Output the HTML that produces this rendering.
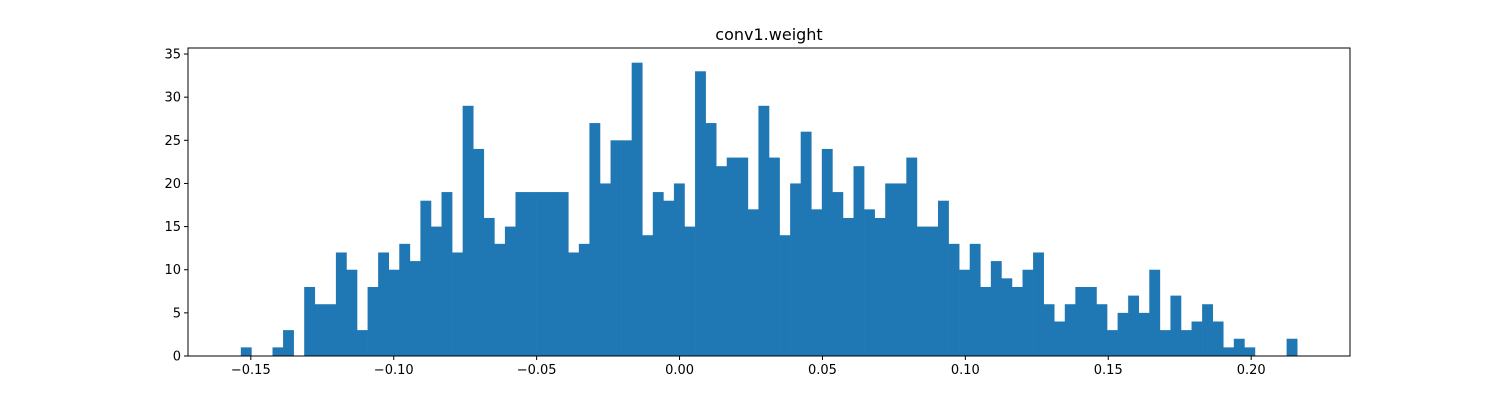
<!DOCTYPE html>
<html><head><meta charset="utf-8"><style>
html,body{margin:0;padding:0;background:#fff;}
svg{display:block;font-family:"DejaVu Sans","Liberation Sans",sans-serif;}
</style></head>
<body>
<svg id="chart" width="1500" height="400">
<rect width="1500" height="400" fill="#fff"/>
<text x="769" y="40" text-anchor="middle" font-size="16">conv1.weight</text>
<g id="bars"></g>
<g id="axes"></g>
</svg>
<script>
const counts = [1,0,0,1,3,0,8,6,6,12,10,3,8,12,10,13,11,18,15,19,12,29,24,16,13,15,19,19,19,19,19,12,13,27,20,25,25,34,14,19,18,20,15,33,27,22,23,23,17,29,23,14,20,26,17,24,19,16,22,17,16,20,20,23,15,15,18,13,10,13,8,11,9,8,10,12,6,4,6,8,8,6,3,5,7,5,10,3,7,3,4,6,4,1,2,1,0,0,0,2];
const binStart = -0.1535;
const binWidth = 0.003696;
const xTicks = [-0.15,-0.10,-0.05,0.00,0.05,0.10,0.15,0.20];
const xTickLabels = ["\u22120.15","\u22120.10","\u22120.05","0.00","0.05","0.10","0.15","0.20"];
const yTicks = [0,5,10,15,20,25,30,35];

const L=188,R=1350,T=48,B=356;
const nBins=counts.length;
const dMin=binStart, dMax=binStart+nBins*binWidth, pad=(dMax-dMin)*0.05;
const xMin=dMin-pad, xMax=dMax+pad;
const yMax=Math.max(...counts)*1.05;
const xs=v=>L+(v-xMin)/(xMax-xMin)*(R-L);
const ys=v=>B-v/yMax*(B-T);
const NS="http://www.w3.org/2000/svg";
const bars=document.getElementById('bars');
counts.forEach((c,i)=>{
  if(c<=0) return;
  const x0=xs(binStart+i*binWidth), x1=xs(binStart+(i+1)*binWidth);
  const r=document.createElementNS(NS,'rect');
  r.setAttribute('x',x0);r.setAttribute('y',ys(c));
  r.setAttribute('width',x1-x0+0.3);r.setAttribute('height',B-ys(c));
  r.setAttribute('fill','#1f77b4');
  
  
  bars.appendChild(r);
});
const ax=document.getElementById('axes');
const frame=document.createElementNS(NS,'rect');
frame.setAttribute('x',L);frame.setAttribute('y',T);frame.setAttribute('width',R-L);frame.setAttribute('height',B-T);
frame.setAttribute('fill','none');frame.setAttribute('stroke','#000');frame.setAttribute('stroke-width','1');


ax.appendChild(frame);
xTicks.forEach((v,i)=>{
  const x=xs(v);
  const l=document.createElementNS(NS,'line');
  l.setAttribute('x1',x);l.setAttribute('x2',x);l.setAttribute('y1',B);l.setAttribute('y2',B+4);l.setAttribute('stroke','#000');
  
  
  ax.appendChild(l);
  const t=document.createElementNS(NS,'text');
  t.setAttribute('x',x);t.setAttribute('y',B+18);t.setAttribute('text-anchor','middle');t.setAttribute('font-size','13');
  t.textContent=xTickLabels[i];
  
  
  ax.appendChild(t);
});
yTicks.forEach(v=>{
  const y=ys(v);
  const l=document.createElementNS(NS,'line');
  l.setAttribute('x1',L-4);l.setAttribute('x2',L);l.setAttribute('y1',y);l.setAttribute('y2',y);l.setAttribute('stroke','#000');
  
  
  ax.appendChild(l);
  const t=document.createElementNS(NS,'text');
  t.setAttribute('x',L-7);t.setAttribute('y',y+4.5);t.setAttribute('text-anchor','end');t.setAttribute('font-size','13');
  t.textContent=String(v);
  
  
  ax.appendChild(t);
});
</script>
</body></html>
